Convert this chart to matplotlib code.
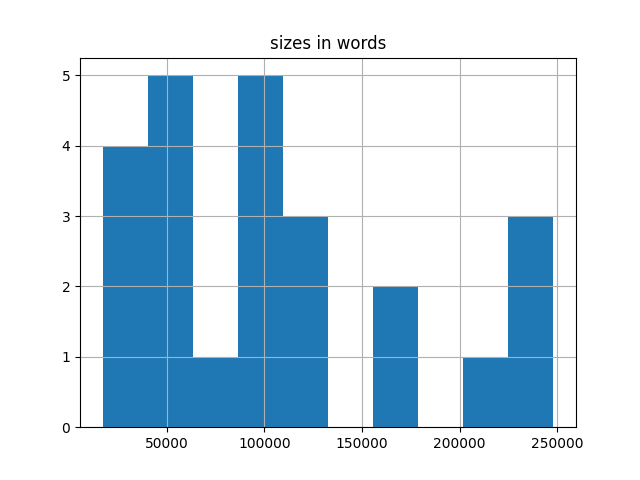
import numpy as np
import matplotlib
matplotlib.use("Agg")
import matplotlib.pyplot as plt

# document sizes (words)
sizes = [17200, 25000, 31000, 38000,
         42000, 47000, 52000, 56000, 61000,
         75000,
         88000, 92000, 97000, 101000, 106000,
         112000, 120000, 128000,
         160000, 172000,
         210000,
         230000, 240000, 248000]

fig, ax = plt.subplots(figsize=(6.4, 4.8), dpi=100)
ax.hist(sizes, bins=10)
ax.grid(True)
ax.set_title("sizes in words")

fig.savefig("out.png")
